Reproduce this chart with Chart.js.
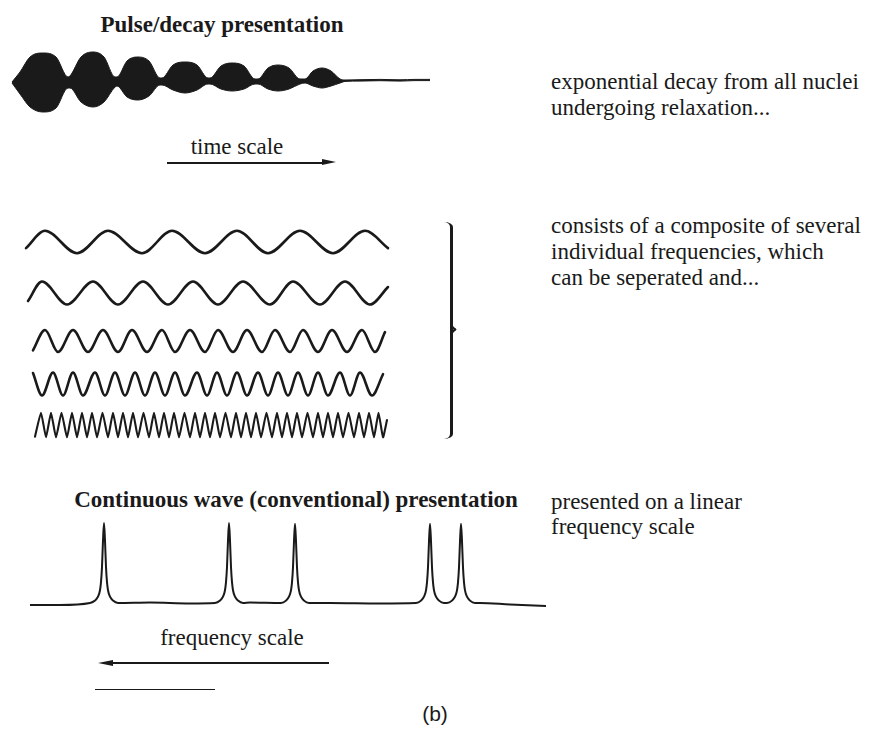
<!DOCTYPE html>
<html>
<head>
<meta charset="utf-8">
<title>Pulse/decay vs continuous wave presentation</title>
<script src="https://cdn.jsdelivr.net/npm/chart.js@4.4.1/dist/chart.umd.min.js"></script>
<style>
    html, body { margin: 0; padding: 0; background: #fff; }
    #page {
        position: relative;
        width: 870px;
        height: 729px;
        overflow: hidden;
        background: #fff;
        color: #1a1a1a;
        font-family: "Liberation Serif", "Times New Roman", serif;
    }
    #page canvas { position: absolute; left: 0; }
    .txt { position: absolute; white-space: nowrap; font-size: 23px; line-height: 26px; }
    .centered { transform: translate(-50%, -50%); }
    .title { font-weight: bold; }
    .note { left: 551px; }
    .rule { position: absolute; background: #1a1a1a; }
    .head { position: absolute; width: 0; height: 0; border-top: 3.5px solid transparent; border-bottom: 3.5px solid transparent; }
    #brace {
        position: absolute; left: 444px; top: 222px; width: 6px; height: 217px;
        border-right: 3px solid #1a1a1a;
        border-top-right-radius: 9px 5px;
        border-bottom-right-radius: 9px 5px;
    }
    #cusp {
        position: absolute; left: 448px; top: 326px; width: 5px; height: 5px;
        border-top: 2.5px solid #1a1a1a; border-right: 2.5px solid #1a1a1a;
        transform: rotate(45deg);
    }
    #label-b { font-family: "Liberation Sans", Arial, sans-serif; font-size: 21px; }
</style>
</head>
<body>
<div id="page">
    <div class="txt title centered" style="left:222px; top:25px;">Pulse/decay presentation</div>
    <canvas id="pulseChart" width="440" height="85" style="top:40px;"></canvas>
    <div class="txt centered" style="left:237px; top:147px;">time scale</div>
    <div class="rule" style="left:167px; top:162px; width:157px; height:1.5px;"></div>
    <div class="head" style="left:322px; top:159.2px; border-left:14px solid #1a1a1a;"></div>

    <div class="txt note" style="top:69px;">exponential decay from all nuclei<br>undergoing relaxation...</div>

    <canvas id="wave1" width="400" height="34"></canvas>
    <canvas id="wave2" width="400" height="34"></canvas>
    <canvas id="wave3" width="400" height="34"></canvas>
    <canvas id="wave4" width="400" height="34"></canvas>
    <canvas id="wave5" width="400" height="34"></canvas>
    <div id="brace"></div>
    <div id="cusp"></div>

    <div class="txt note" style="top:213px;">consists of a composite of several<br>individual frequencies, which<br>can be seperated and...</div>

    <div class="txt title centered" style="left:296px; top:500px;">Continuous wave (conventional) presentation</div>
    <div class="txt note" style="top:489px; line-height:25px;">presented on a linear<br>frequency scale</div>
    <canvas id="spectrumChart" width="560" height="110" style="top:505px;"></canvas>
    <div class="txt centered" style="left:232px; top:638px;">frequency scale</div>
    <div class="rule" style="left:112px; top:662px; width:217px; height:2px;"></div>
    <div class="head" style="left:98px; top:659.5px; border-right:15px solid #1a1a1a;"></div>
    <div class="rule" style="left:95px; top:688.5px; width:120px; height:1.5px;"></div>

    <div id="label-b" class="txt centered" style="left:435px; top:714px;">(b)</div>
</div>

<script>
// ---- pulse / decay signal: envelope of the free induction decay ----
// time from start of the pulse, upper and lower edge of the envelope
const pulseTime  = [0, 8, 18, 31, 44, 56, 58, 69, 81, 92, 103, 105, 115, 126, 137, 148, 150, 161, 173, 185, 196,
                    198, 209, 220, 232, 243, 246, 256, 266, 277, 288, 293, 301, 310, 319, 328, 333, 348, 368, 388, 403, 418];
const pulseUpper = [0, 10, 25, 29, 25, 5, 6, 25, 30, 25, 5, 5, 21, 25, 21, 4, 4, 17, 20, 17, 4,
                    4, 16, 19, 16, 3, 3, 14, 17, 14, 3, 3, 11, 14, 11, 3, 2, 2.3, 2.6, 2.2, 2.6, 2.6];
const pulseLower = [-1, -12, -25, -30, -26, -6, -6, -20, -25, -20, -5, -4, -15, -18, -14, -3, -3, -8, -11, -8, -2,
                    -2, -7, -9, -7, -2, -2, -7, -9, -7, -2, -1, -4, -6, -4, -1, 0.6, 0.9, 1.3, 0.9, 1.4, 1.4];

// ---- individual frequencies: times of successive maxima / minima ----
const wave1Times = [0, 19, 51, 82, 116, 146, 179, 211, 242, 274, 307, 339, 362];
const wave2Times = [2, 16, 41, 67, 92, 117, 142, 167, 192, 217, 244, 267, 294, 319, 344, 362];
const wave3Times = [7, 19, 32, 47, 62, 77, 92, 106, 121, 136, 149, 164, 179, 192, 207, 221, 236, 249, 264,
                    277, 292, 306, 321, 336, 349, 359];
const wave4Times = [7, 16, 27, 37, 47, 57, 69, 79, 89, 99, 109, 119, 129, 139, 149, 159, 171, 181, 191, 201,
                    211, 221, 232, 242, 252, 262, 272, 282, 292, 302, 314, 324, 334, 346, 357];
const wave5Times = [9, 15, 20, 25, 30, 35.5, 41, 46, 51, 56, 61, 66, 71, 76.5, 82, 87, 92, 97, 102, 107, 112,
                    117.5, 123, 128, 133, 138, 143, 148, 153, 158.5, 164, 169, 174, 179, 184, 189, 194, 199.5,
                    205, 210, 215, 220, 225, 230, 235, 240.5, 246, 251, 256, 261, 266, 271, 276, 281.5, 287,
                    292, 297, 302, 307, 312, 317, 322.5, 328, 333, 338, 343, 348, 352.5, 357, 361];
const waveFirstIsPeak = [true, true, true, false, true];
const waveEdgeLevels = [[-0.55, -0.55], [-0.7, 0.52], [-0.85, 0.8], [0.95, 0.85], [-0.95, 0.4]];

// ---- continuous wave spectrum ----
const peakFreqs = [74, 199, 265, 400, 431];
const peakHeights = [1, 1, 0.99, 0.99, 0.99];
const peakShapeOffset = [-14, -9, -6, -4, -3, -2, -1, 0, 1, 2, 3, 4, 6, 9, 14];
const peakShape = [0, 0.03, 0.08, 0.16, 0.26, 0.45, 0.78, 1, 0.78, 0.45, 0.26, 0.16, 0.08, 0.03, 0];
const baselineFreqs = [0, 30, 60, 120, 160, 220, 300, 350, 450, 480, 516];
const baselineLevels = [-0.025, -0.025, -0.006, 0.006, -0.006, 0.006, 0, -0.006, 0, -0.019, -0.038];

const ink = '#1a1a1a';

// where each wave row sits on the page (centre line and pixel amplitude)
const waveRows = [
    { id: 'wave1', center: 241.7, ampPx: 11.2 },
    { id: 'wave2', center: 293, ampPx: 11.5 },
    { id: 'wave3', center: 340.5, ampPx: 11 },
    { id: 'wave4', center: 384, ampPx: 11.5 },
    { id: 'wave5', center: 425, ampPx: 12.3 }
];

function baseOptions(xMin, xMax, yMin, yMax) {
    return {
        responsive: false,
        animation: false,
        devicePixelRatio: 1,
        events: [],
        layout: { padding: 0 },
        plugins: { legend: { display: false }, tooltip: { enabled: false } },
        scales: {
            x: { type: 'linear', display: false, min: xMin, max: xMax },
            y: { type: 'linear', display: false, min: yMin, max: yMax }
        }
    };
}

function toPoints(xs, ys) {
    return xs.map((x, i) => ({ x: x, y: ys[i] }));
}

function waveLevels(times, firstIsPeak, edges) {
    const last = times.length - 1;
    return times.map((t, i) => {
        if (i === 0) return edges[0];
        if (i === last) return edges[1];
        const odd = (i - 1) % 2 === 0;
        return (odd === firstIsPeak) ? 1 : -1;
    });
}

function spectrumPoints() {
    const pts = [];
    baselineFreqs.forEach((f, i) => {
        if (peakFreqs.every(p => Math.abs(f - p) > 15)) pts.push({ x: f, y: baselineLevels[i] });
    });
    peakFreqs.forEach((p, k) => {
        peakShapeOffset.forEach((dx, j) => pts.push({ x: p + dx, y: peakHeights[k] * peakShape[j] }));
    });
    return pts.sort((a, b) => a.x - b.x);
}

// pulse / decay
new Chart(document.getElementById('pulseChart'), {
    type: 'line',
    data: {
        datasets: [
            { data: toPoints(pulseTime, pulseUpper), borderColor: ink, borderWidth: 1, pointRadius: 0,
              cubicInterpolationMode: 'monotone', fill: false },
            { data: toPoints(pulseTime, pulseLower), borderColor: ink, borderWidth: 1, pointRadius: 0,
              cubicInterpolationMode: 'monotone', fill: '-1', backgroundColor: ink }
        ]
    },
    options: baseOptions(-12, 428, -43, 42)
});

// the separate frequencies
const waveTimes = [wave1Times, wave2Times, wave3Times, wave4Times, wave5Times];
waveRows.forEach((row, i) => {
    const canvas = document.getElementById(row.id);
    canvas.style.top = (row.center - 17) + 'px';
    const span = 17 / row.ampPx;
    const levels = waveLevels(waveTimes[i], waveFirstIsPeak[i], waveEdgeLevels[i]);
    new Chart(canvas, {
        type: 'line',
        data: {
            datasets: [{
                data: toPoints(waveTimes[i], levels),
                borderColor: ink,
                borderWidth: i === 4 ? 2.1 : 2.6,
                borderCapStyle: 'round',
                borderJoinStyle: 'round',
                pointRadius: 0,
                cubicInterpolationMode: i === 4 ? 'default' : 'monotone',
                tension: i === 4 ? 0.15 : 0,
                fill: false
            }]
        },
        options: baseOptions(-26, 374, -span, span)
    });
});

// continuous wave spectrum
new Chart(document.getElementById('spectrumChart'), {
    type: 'line',
    data: {
        datasets: [{
            data: spectrumPoints(),
            borderColor: ink,
            borderWidth: 2,
            borderJoinStyle: 'round',
            pointRadius: 0,
            cubicInterpolationMode: 'monotone',
            fill: false
        }]
    },
    options: baseOptions(-30, 530, -0.15, 1.225)
});
</script>
</body>
</html>
